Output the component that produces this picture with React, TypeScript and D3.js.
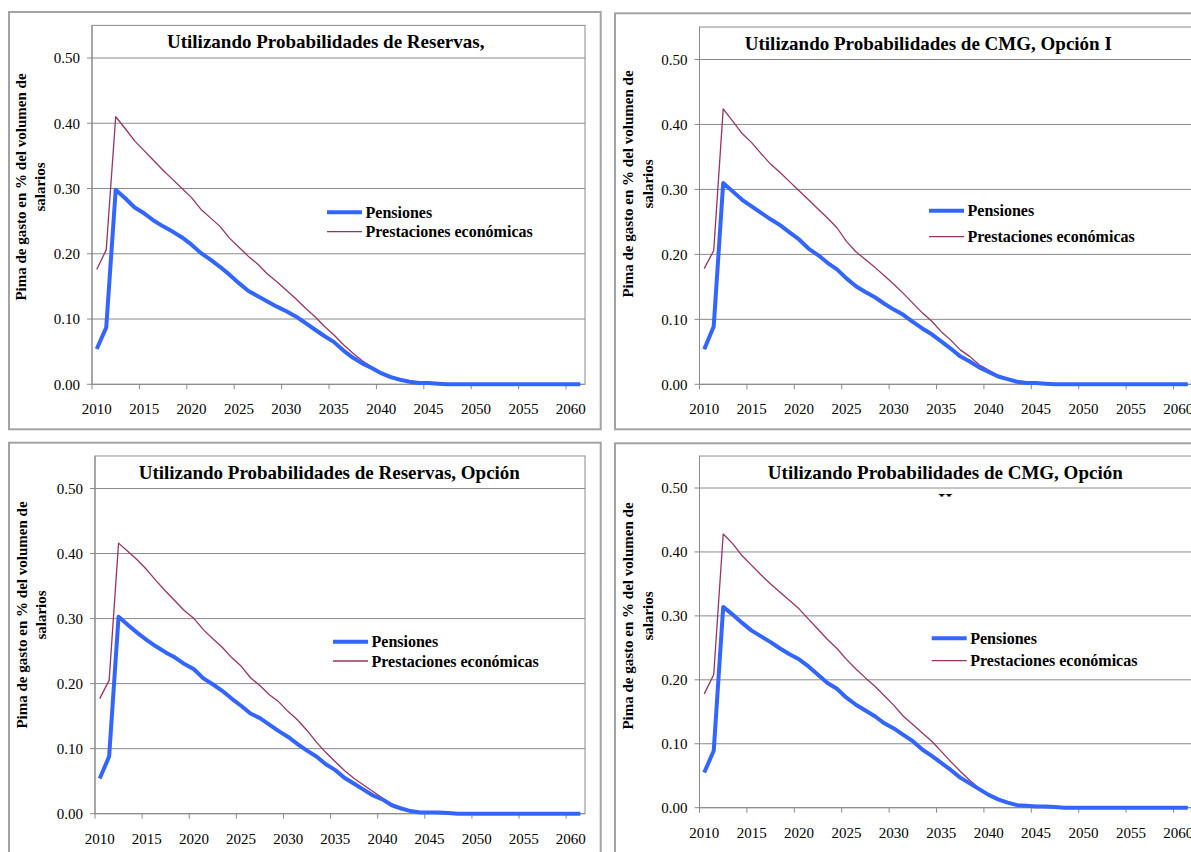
import { useEffect, useRef } from 'react'
import * as d3 from 'd3'

const YEARS = d3.range(2010, 2062)
const X_LABEL_YEARS = [2010, 2015, 2020, 2025, 2030, 2035, 2040, 2045, 2050, 2055, 2060]
const Y_TICKS = [0, 0.1, 0.2, 0.3, 0.4, 0.5]
const SERIES_NAMES = ['Pensiones', 'Prestaciones económicas']
const Y_TITLE = ['Pima de gasto en % del volumen de', 'salarios']

// Reservas
const RES_PENS = [
  0.054, 0.087, 0.298, 0.285, 0.271, 0.262, 0.251, 0.242, 0.234, 0.225,
  0.214, 0.201, 0.191, 0.180, 0.168, 0.155, 0.143, 0.135, 0.127, 0.119,
  0.112, 0.104, 0.094, 0.084, 0.074, 0.065, 0.052, 0.041, 0.032, 0.025,
  0.017, 0.011, 0.007, 0.004, 0.002, 0.002, 0.001, 0, 0, 0,
  0, 0, 0, 0, 0, 0, 0, 0, 0, 0,
  0, 0,
]
const RES_PREST = [
  0.176, 0.206, 0.410, 0.392, 0.373, 0.358, 0.343, 0.328, 0.314, 0.300,
  0.286, 0.268, 0.255, 0.242, 0.224, 0.210, 0.196, 0.184, 0.169, 0.157,
  0.144, 0.131, 0.117, 0.104, 0.089, 0.076, 0.061, 0.048, 0.036, 0.027,
  0.018, 0.013, 0.008, 0.004, 0.002, 0.001, 0, 0, 0, 0,
  0, 0, 0, 0, 0, 0, 0, 0, 0, 0,
  0, 0,
]

// CMG, Opción I
const CMG1_PENS = [
  0.054, 0.089, 0.310, 0.297, 0.284, 0.274, 0.264, 0.254, 0.245, 0.234,
  0.223, 0.209, 0.199, 0.187, 0.177, 0.163, 0.151, 0.142, 0.134, 0.124,
  0.115, 0.107, 0.096, 0.086, 0.077, 0.066, 0.055, 0.043, 0.035, 0.026,
  0.019, 0.012, 0.008, 0.004, 0.002, 0.002, 0.001, 0, 0, 0,
  0, 0, 0, 0, 0, 0, 0, 0, 0, 0,
  0, 0,
]
const CMG1_PREST = [
  0.178, 0.206, 0.424, 0.405, 0.386, 0.372, 0.355, 0.339, 0.326, 0.312,
  0.298, 0.284, 0.270, 0.256, 0.241, 0.220, 0.204, 0.192, 0.180, 0.167,
  0.154, 0.140, 0.125, 0.110, 0.097, 0.081, 0.068, 0.053, 0.043, 0.030,
  0.022, 0.014, 0.008, 0.005, 0.002, 0.001, 0, 0, 0, 0,
  0, 0, 0, 0, 0, 0, 0, 0, 0, 0,
  0, 0,
]

// Reservas, Opción
const RES2_PENS = [
  0.054, 0.088, 0.303, 0.290, 0.278, 0.267, 0.257, 0.248, 0.240, 0.230,
  0.222, 0.208, 0.199, 0.189, 0.177, 0.166, 0.154, 0.147, 0.137, 0.127,
  0.118, 0.107, 0.097, 0.088, 0.076, 0.067, 0.055, 0.046, 0.037, 0.028,
  0.022, 0.013, 0.008, 0.004, 0.002, 0.002, 0.002, 0.001, 0, 0,
  0, 0, 0, 0, 0, 0, 0, 0, 0, 0,
  0, 0,
]
const RES2_PREST = [
  0.177, 0.205, 0.416, 0.403, 0.390, 0.375, 0.358, 0.342, 0.327, 0.312,
  0.300, 0.283, 0.269, 0.256, 0.240, 0.227, 0.209, 0.197, 0.183, 0.172,
  0.157, 0.144, 0.128, 0.110, 0.094, 0.080, 0.066, 0.054, 0.044, 0.034,
  0.024, 0.015, 0.009, 0.005, 0.003, 0.001, 0, 0, 0, 0,
  0, 0, 0, 0, 0, 0, 0, 0, 0, 0,
  0, 0,
]

// CMG, Opción II
const CMG2_PENS = [
  0.055, 0.089, 0.314, 0.302, 0.289, 0.277, 0.268, 0.259, 0.249, 0.240,
  0.232, 0.221, 0.208, 0.195, 0.186, 0.172, 0.161, 0.152, 0.143, 0.132,
  0.124, 0.114, 0.104, 0.091, 0.081, 0.070, 0.059, 0.047, 0.038, 0.029,
  0.020, 0.013, 0.008, 0.004, 0.003, 0.002, 0.002, 0.001, 0, 0,
  0, 0, 0, 0, 0, 0, 0, 0, 0, 0,
  0, 0,
]
const CMG2_PREST = [
  0.178, 0.208, 0.428, 0.413, 0.394, 0.379, 0.364, 0.350, 0.337, 0.324,
  0.311, 0.295, 0.279, 0.263, 0.249, 0.232, 0.217, 0.203, 0.190, 0.175,
  0.160, 0.143, 0.130, 0.117, 0.104, 0.088, 0.072, 0.057, 0.043, 0.030,
  0.021, 0.014, 0.009, 0.005, 0.002, 0.001, 0, 0, 0, 0,
  0, 0, 0, 0, 0, 0, 0, 0, 0, 0,
  0, 0,
]

const PANELS = [
  {
    title: 'Utilizando Probabilidades de Reservas,', pens: RES_PENS, prest: RES_PREST,
    box: [9, 12, 600.7, 429.3], left: 92, right: 585, zero: 384.3, half: 58,
    titleX: 325.7, titleY: 48.3, legX: 327, legY: 212.3, legGap: 19.4, ylX: 25.5, ylCy: 187,
  },
  {
    title: 'Utilizando Probabilidades de CMG, Opción I', pens: CMG1_PENS, prest: CMG1_PREST,
    box: [615, 13.3, 1210, 429.3], left: 699.5, right: 1192.5, zero: 384.3, half: 59.5,
    titleX: 928.3, titleY: 50, legX: 929, legY: 210.7, legGap: 26, ylX: 633, ylCy: 184,
  },
  {
    title: 'Utilizando Probabilidades de Reservas, Opción', pens: RES2_PENS, prest: RES2_PREST,
    box: [9, 442.7, 600.7, 870], left: 95, right: 585, zero: 813.7, half: 488.5,
    titleX: 329.3, titleY: 478.5, legX: 333, legY: 641.7, legGap: 19.3, ylX: 26.5, ylCy: 615,
  },
  {
    title: 'Utilizando Probabilidades de CMG, Opción', title2: 'II', pens: CMG2_PENS, prest: CMG2_PREST,
    box: [615, 443.3, 1210, 870], left: 699.5, right: 1192.5, zero: 807.7, half: 488,
    titleX: 945.3, titleY: 478.5, legX: 931.7, legY: 638.3, legGap: 22.4, ylX: 633, ylCy: 616,
  },
]

const BLUE = '#3366ff'
const PLUM = '#993366'
const GRID = '#8a8a8a'
const FONT = '"Liberation Serif", "Times New Roman", serif'

export default function App() {
  const svgRef = useRef<SVGSVGElement | null>(null)

  useEffect(() => {
    if (!svgRef.current) return
    const svg = d3.select(svgRef.current)
    svg.selectAll('*').remove()
    svg.append('rect').attr('width', 1191).attr('height', 852).attr('fill', '#fff')

    PANELS.forEach((p, pi) => {
      const g = svg.append('g').style('font-family', FONT)

      const [bx0, by0, bx1, by1] = p.box
      g.append('rect')
        .attr('x', bx0).attr('y', by0).attr('width', bx1 - bx0).attr('height', by1 - by0)
        .attr('fill', '#fff').attr('stroke', '#a3a3a3').attr('stroke-width', 2)

      const x = d3.scaleBand().domain(YEARS.map(String)).range([p.left, p.right]).padding(0)
      const y = d3.scaleLinear().domain([0, 0.5]).range([p.zero, p.half])
      const top = y(0.55)
      const cx = (yr: number) => (x(String(yr)) as number) + x.bandwidth() / 2

      // plot area frame
      g.append('rect')
        .attr('x', p.left).attr('y', top).attr('width', p.right - p.left).attr('height', p.zero - top)
        .attr('fill', '#fff').attr('stroke', GRID).attr('stroke-width', 1)

      // gridlines + y ticks
      g.selectAll('.grid').data(Y_TICKS).enter().append('line')
        .attr('x1', p.left - 5).attr('x2', p.right)
        .attr('y1', d => y(d)).attr('y2', d => y(d))
        .attr('stroke', GRID).attr('stroke-width', 1)

      g.selectAll('.ylab').data(Y_TICKS).enter().append('text')
        .attr('x', p.left - 12).attr('y', d => y(d)).attr('dy', '0.35em')
        .attr('text-anchor', 'end').attr('font-size', 15).attr('fill', '#000')
        .text(d => d3.format('.2f')(d))

      // x ticks every 5 categories
      g.selectAll('.xtick').data(X_LABEL_YEARS).enter().append('line')
        .attr('x1', d => x(String(d)) as number).attr('x2', d => x(String(d)) as number)
        .attr('y1', p.zero).attr('y2', p.zero + 5)
        .attr('stroke', GRID).attr('stroke-width', 1)

      g.append('line')
        .attr('x1', p.left).attr('x2', p.left).attr('y1', top).attr('y2', p.zero)
        .attr('stroke', GRID).attr('stroke-width', 1)

      g.selectAll('.xlab').data(X_LABEL_YEARS).enter().append('text')
        .attr('x', d => cx(d)).attr('y', p.zero + 30)
        .attr('text-anchor', 'middle').attr('font-size', 15).attr('fill', '#000')
        .text(d => String(d))

      // title
      g.append('text')
        .attr('x', p.titleX).attr('y', p.titleY)
        .attr('text-anchor', 'middle').attr('font-size', 19).attr('font-weight', 'bold')
        .text(p.title)
      if (p.title2) {
        const clipId = `tclip${pi}`
        g.append('clipPath').attr('id', clipId)
          .append('rect').attr('x', p.left).attr('y', p.titleY).attr('width', p.right - p.left).attr('height', 18)
        g.append('text')
          .attr('x', p.titleX).attr('y', p.titleY + 28)
          .attr('text-anchor', 'middle').attr('font-size', 19).attr('font-weight', 'bold')
          .attr('clip-path', `url(#${clipId})`)
          .text(p.title2)
      }

      // y axis title
      Y_TITLE.forEach((t, i) => {
        g.append('text')
          .attr('transform', `translate(${p.ylX + i * 19.5},${p.ylCy}) rotate(-90)`)
          .attr('text-anchor', 'middle').attr('font-size', 15).attr('font-weight', 'bold')
          .text(t)
      })

      // series
      const line = d3.line<number>()
        .x((_, i) => cx(YEARS[i]))
        .y(d => y(d))

      g.append('path').datum(p.prest)
        .attr('d', line).attr('fill', 'none')
        .attr('stroke', PLUM).attr('stroke-width', 1.3).attr('stroke-linejoin', 'round')

      g.append('path').datum(p.pens)
        .attr('d', line).attr('fill', 'none')
        .attr('stroke', BLUE).attr('stroke-width', 4).attr('stroke-linejoin', 'round')

      // legend
      const legend = g.append('g').attr('transform', `translate(${p.legX},${p.legY})`)
      SERIES_NAMES.forEach((name, i) => {
        const ly = i * p.legGap
        legend.append('line')
          .attr('x1', 0).attr('x2', 35).attr('y1', ly).attr('y2', ly)
          .attr('stroke', i === 0 ? BLUE : PLUM).attr('stroke-width', i === 0 ? 4 : 1.3)
        legend.append('text')
          .attr('x', 38.5).attr('y', ly).attr('dy', '0.35em')
          .attr('font-size', 16).attr('font-weight', 'bold')
          .text(name)
      })
    })
  }, [])

  return (
    <div style={{ position: 'absolute', left: 0, top: 0 }}>
      <svg ref={svgRef} width={1191} height={852} style={{ display: 'block' }} />
    </div>
  )
}
